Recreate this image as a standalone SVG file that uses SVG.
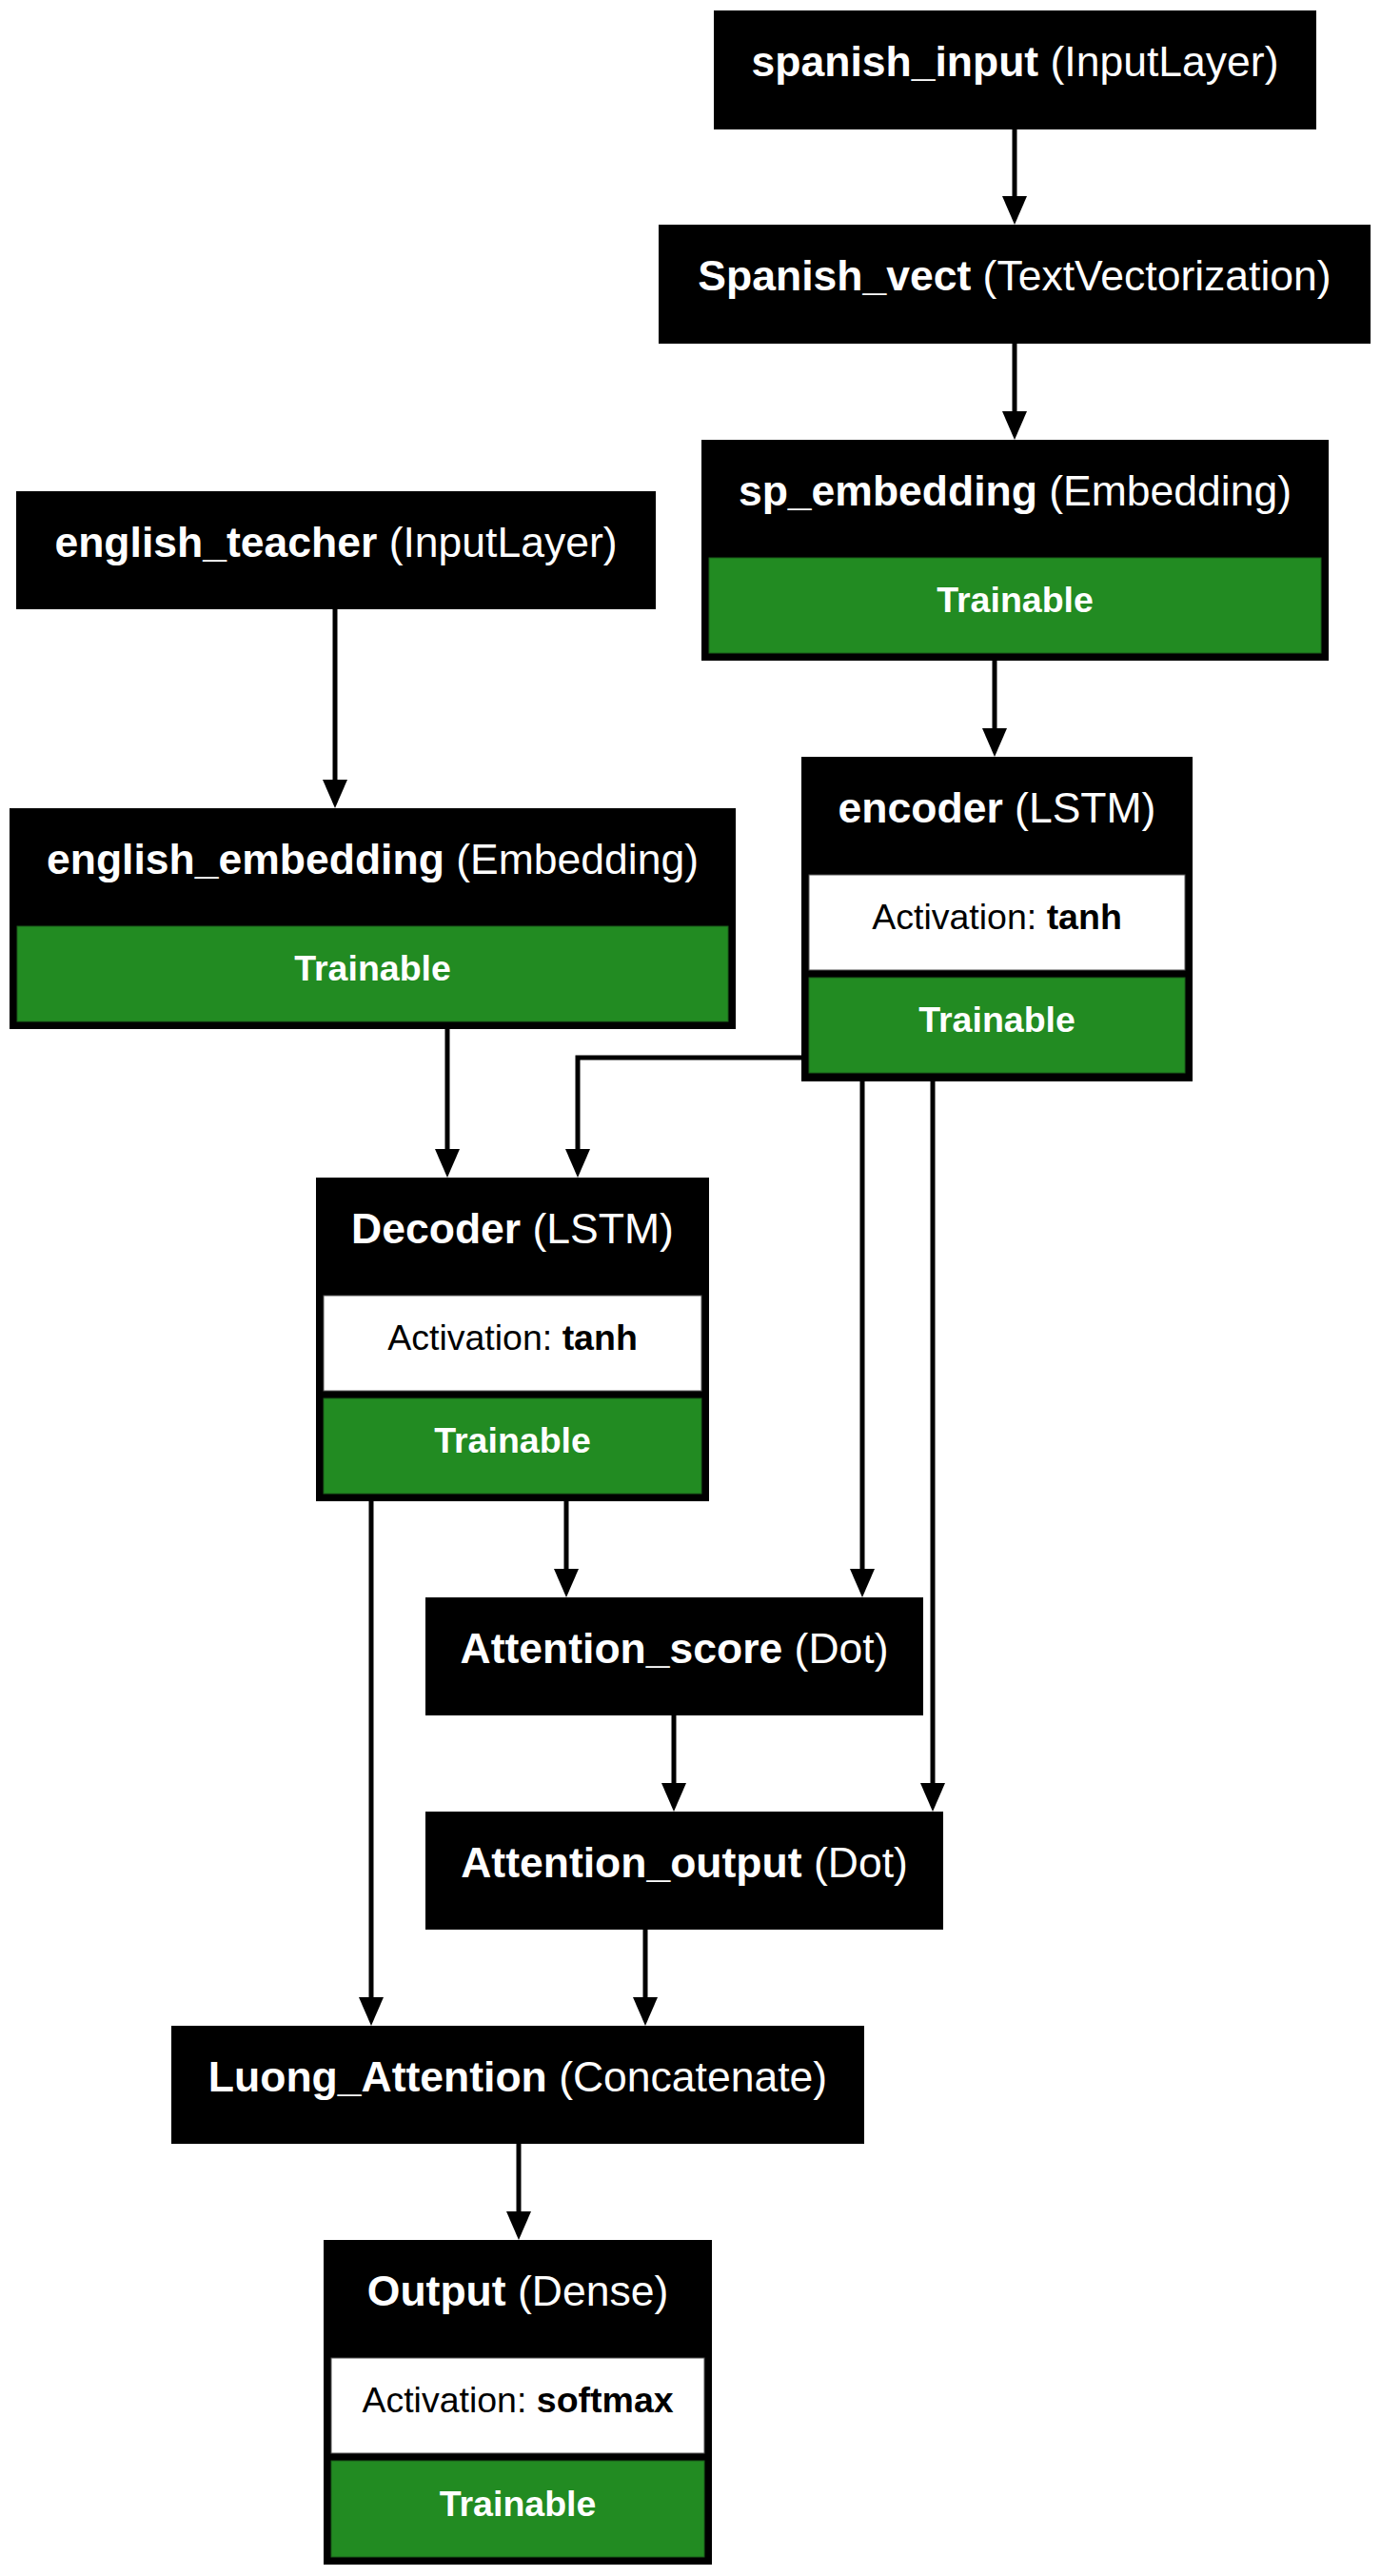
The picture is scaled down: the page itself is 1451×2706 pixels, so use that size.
<svg xmlns="http://www.w3.org/2000/svg" width="1451" height="2706" viewBox="0 0 1451 2706">
<style>
text{font-family:"Liberation Sans",Arial,Helvetica,sans-serif;text-anchor:middle}
.box{fill:#000}
.title{font-size:44.5px;fill:#fff}
.sub{font-size:37.5px}
.b{font-weight:bold}
.white{fill:#fff;stroke:#555;stroke-width:1}
.green{fill:#228b22;stroke:#1a5e1a;stroke-width:1}
.wt{fill:#000}
.gt{fill:#fff;font-weight:bold}
.edge{fill:none;stroke:#000;stroke-width:5;marker-end:url(#arr)}
</style>
<defs>
<marker id="arr" markerUnits="userSpaceOnUse" markerWidth="32" markerHeight="28" refX="0" refY="14" orient="auto" overflow="visible">
<path d="M0,1 L30,14 L0,27 z" fill="#000"/>
</marker>
</defs>
<rect width="1451" height="2706" fill="#fff"/>
<g id="connectors">
<path class="edge" d="M1066,136 V206"/>
<path class="edge" d="M1066,361 V432"/>
<path class="edge" d="M1045,694 V765"/>
<path class="edge" d="M352,640 V819"/>
<path class="edge" d="M470,1081 V1207"/>
<path class="edge" d="M842,1111 H607 V1207"/>
<path class="edge" d="M906,1136 V1648"/>
<path class="edge" d="M980,1136 V1873"/>
<path class="edge" d="M595,1577 V1648"/>
<path class="edge" d="M390,1577 V2098"/>
<path class="edge" d="M708,1802 V1873"/>
<path class="edge" d="M678,2027 V2098"/>
<path class="edge" d="M545,2252 V2323"/>
</g>
<g id="spanish_input">
<rect class="box" x="750" y="11" width="633" height="125"/>
<text class="title" x="1066.5" y="80"><tspan class="b">spanish_input</tspan> (InputLayer)</text>
</g>
<g id="Spanish_vect">
<rect class="box" x="692" y="236" width="748" height="125"/>
<text class="title" x="1066" y="305"><tspan class="b">Spanish_vect</tspan> (TextVectorization)</text>
</g>
<g id="sp_embedding">
<rect class="box" x="737" y="462" width="659" height="232"/>
<text class="title" x="1066.5" y="531"><tspan class="b">sp_embedding</tspan> (Embedding)</text>
<rect class="green" x="745" y="586" width="643" height="100"/>
<text class="sub gt" x="1066.5" y="643">Trainable</text>
</g>
<g id="english_teacher">
<rect class="box" x="17" y="516" width="672" height="124"/>
<text class="title" x="353" y="585"><tspan class="b">english_teacher</tspan> (InputLayer)</text>
</g>
<g id="english_embedding">
<rect class="box" x="10" y="849" width="763" height="232"/>
<text class="title" x="391.5" y="918"><tspan class="b">english_embedding</tspan> (Embedding)</text>
<rect class="green" x="18" y="973" width="747" height="100"/>
<text class="sub gt" x="391.5" y="1030">Trainable</text>
</g>
<g id="encoder">
<rect class="box" x="842" y="795" width="411" height="341"/>
<text class="title" x="1047.5" y="864"><tspan class="b">encoder</tspan> (LSTM)</text>
<rect class="white" x="850" y="919" width="395" height="100"/>
<text class="sub wt" x="1047.5" y="976">Activation: <tspan class="b">tanh</tspan></text>
<rect class="green" x="850" y="1027" width="395" height="100"/>
<text class="sub gt" x="1047.5" y="1084">Trainable</text>
</g>
<g id="Decoder">
<rect class="box" x="332" y="1237" width="413" height="340"/>
<text class="title" x="538.5" y="1306"><tspan class="b">Decoder</tspan> (LSTM)</text>
<rect class="white" x="340" y="1361" width="397" height="100"/>
<text class="sub wt" x="538.5" y="1418">Activation: <tspan class="b">tanh</tspan></text>
<rect class="green" x="340" y="1469" width="397" height="100"/>
<text class="sub gt" x="538.5" y="1526">Trainable</text>
</g>
<g id="Attention_score">
<rect class="box" x="447" y="1678" width="523" height="124"/>
<text class="title" x="708.5" y="1747"><tspan class="b">Attention_score</tspan> (Dot)</text>
</g>
<g id="Attention_output">
<rect class="box" x="447" y="1903" width="544" height="124"/>
<text class="title" x="719" y="1972"><tspan class="b">Attention_output</tspan> (Dot)</text>
</g>
<g id="Luong_Attention">
<rect class="box" x="180" y="2128" width="728" height="124"/>
<text class="title" x="544" y="2197"><tspan class="b">Luong_Attention</tspan> (Concatenate)</text>
</g>
<g id="Output">
<rect class="box" x="340" y="2353" width="408" height="341"/>
<text class="title" x="544" y="2422"><tspan class="b">Output</tspan> (Dense)</text>
<rect class="white" x="348" y="2477" width="392" height="100"/>
<text class="sub wt" x="544" y="2534">Activation: <tspan class="b">softmax</tspan></text>
<rect class="green" x="348" y="2585" width="392" height="101"/>
<text class="sub gt" x="544" y="2643">Trainable</text>
</g>
</svg>
